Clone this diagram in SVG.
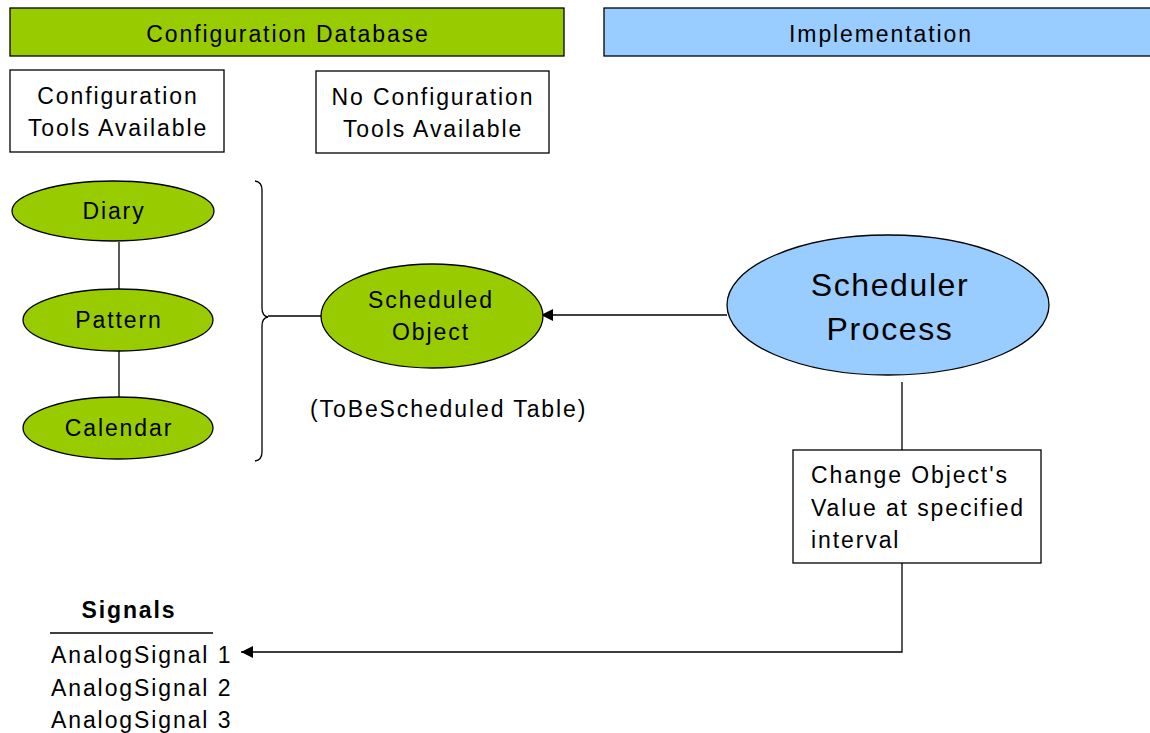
<svg xmlns="http://www.w3.org/2000/svg" width="1150" height="733" viewBox="0 0 1150 733">
  <style>
    text { font-family: "Liberation Sans", Arial, sans-serif; font-size: 23px; letter-spacing: 1.9px; fill: #000; }
    .mid { text-anchor: middle; }
    .big { font-size: 32px; letter-spacing: 1.6px; }
    .box { fill: #fff; stroke: #000; stroke-width: 1.3; }
    .green { fill: #99cc00; stroke: #000; stroke-width: 1.3; }
    .blue { fill: #99ccff; stroke: #000; stroke-width: 1.3; }
    .wire { fill: none; stroke: #000; stroke-width: 1.3; }
  </style>
  <defs>
    <marker id="arrow" viewBox="0 0 10 10" refX="10" refY="5" markerWidth="13" markerHeight="12" markerUnits="userSpaceOnUse" orient="auto">
      <path d="M0,0 L10,5 L0,10 z" fill="#000"/>
    </marker>
  </defs>
  <rect width="1150" height="733" fill="#fff"/>

  <g id="header-config">
    <rect class="green" x="10" y="8" width="554" height="48"/>
    <text class="mid" x="288" y="42">Configuration Database</text>
  </g>
  <g id="header-impl">
    <rect class="blue" x="604" y="8" width="560" height="48"/>
    <text class="mid" x="881" y="42">Implementation</text>
  </g>

  <g id="tools-available">
    <rect class="box" x="10" y="70" width="214" height="82"/>
    <text class="mid" x="118" y="104">Configuration</text>
    <text class="mid" x="118" y="136">Tools Available</text>
  </g>
  <g id="no-tools">
    <rect class="box" x="316" y="71" width="233" height="82"/>
    <text class="mid" x="433" y="105">No Configuration</text>
    <text class="mid" x="433" y="137">Tools Available</text>
  </g>

  <g id="connectors">
    <line class="wire" x1="119" y1="242" x2="119" y2="289"/>
    <line class="wire" x1="119" y1="351" x2="119" y2="397"/>
    <path class="wire" d="M255,181 Q262,182 262,190 L262,308 Q262,316 268,317 Q262,318 262,326 L262,452 Q262,460 255,461"/>
    <line class="wire" x1="268" y1="316" x2="322" y2="316"/>
    <line class="wire" x1="727" y1="315" x2="541" y2="315" marker-end="url(#arrow)"/>
    <line class="wire" x1="902" y1="382" x2="902" y2="450"/>
    <polyline class="wire" points="902,563 902,652 241,652" marker-end="url(#arrow)"/>
  </g>

  <g id="diary">
    <ellipse class="green" cx="113" cy="211" rx="101" ry="30"/>
    <text class="mid" x="114" y="219">Diary</text>
  </g>
  <g id="pattern">
    <ellipse class="green" cx="118" cy="320" rx="95" ry="31"/>
    <text class="mid" x="119" y="328">Pattern</text>
  </g>
  <g id="calendar">
    <ellipse class="green" cx="118" cy="428" rx="95" ry="31"/>
    <text class="mid" x="119" y="436">Calendar</text>
  </g>

  <g id="scheduled-object">
    <ellipse class="green" cx="432" cy="316" rx="111" ry="52"/>
    <text class="mid" x="431" y="308">Scheduled</text>
    <text class="mid" x="431" y="340">Object</text>
  </g>
  <text x="310" y="417">(ToBeScheduled Table)</text>

  <g id="scheduler-process">
    <ellipse class="blue" cx="888" cy="305" rx="161" ry="70"/>
    <text class="mid big" x="890" y="296">Scheduler</text>
    <text class="mid big" x="890" y="340">Process</text>
  </g>

  <g id="change-value">
    <rect class="box" x="793" y="450" width="248" height="113"/>
    <text x="811" y="483">Change Object's</text>
    <text x="811" y="516">Value at specified</text>
    <text x="811" y="548">interval</text>
  </g>

  <g id="signals">
    <text class="mid" x="129" y="618" style="font-weight:bold">Signals</text>
    <line class="wire" x1="50" y1="633" x2="213" y2="633"/>
    <text x="51" y="663">AnalogSignal 1</text>
    <text x="51" y="696">AnalogSignal 2</text>
    <text x="51" y="728">AnalogSignal 3</text>
  </g>
</svg>
